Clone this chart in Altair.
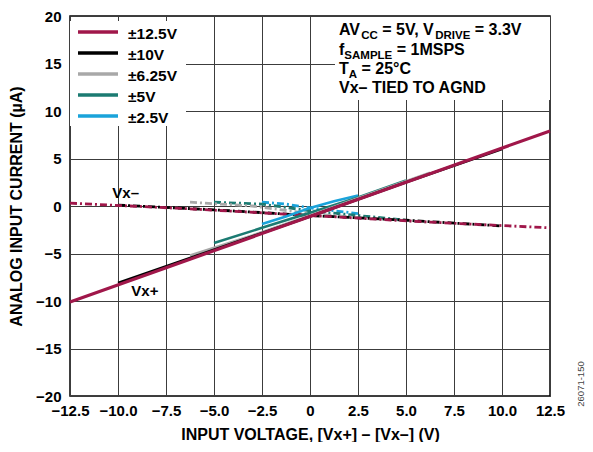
import altair as alt
import pandas as pd

# ---------------- data ----------------
ranges = ["±12.5V", "±10V", "±6.25V", "±5V", "±2.5V"]
colors = ["#A0174A", "#000000", "#A8A8A8", "#1B7B72", "#1AA3DA"]

x_125 = [-12.5, -6.25, 0, 6.25, 12.5]
vp_125 = [-10.1, -5.6, -1.1, 3.4, 7.9]
vm_125 = [0.3, -0.3, -1.0, -1.7, -2.3]

x_10 = [-10, -5, 0, 5, 10]
vp_10 = [-8.1, -4.6, -1.1, 2.5, 6.0]
vm_10 = [0.1, -0.4, -1.0, -1.5, -2.1]

x_625 = [-6.25, -3, 0, 3, 6.25]
vp_625 = [-5.2, -3.1, -1.0, 1.2, 3.5]
vm_625 = [0.4, 0.0, -0.8, -1.3, -1.7]

x_5 = [-5, -2.5, 0, 2.5, 5]
vp_5 = [-3.9, -2.3, -0.7, 0.9, 2.7]
vm_5 = [0.4, 0.2, -0.5, -1.0, -1.5]

x_25 = [-2.5, -1.25, 0, 1.25, 2.5]
vp_25 = [-1.9, -1.1, -0.2, 0.5, 1.1]
vm_25 = [0.4, 0.2, -0.2, -0.5, -0.8]

xs = [x_125, x_10, x_625, x_5, x_25]
vps = [vp_125, vp_10, vp_625, vp_5, vp_25]
vms = [vm_125, vm_10, vm_625, vm_5, vm_25]

x_ticks = [-12.5, -10, -7.5, -5, -2.5, 0, 2.5, 5, 7.5, 10, 12.5]
y_ticks = [-20, -15, -10, -5, 0, 5, 10, 15, 20]

ann_lines = [
    [("AV", 0), ("CC", 1), (" = 5V, V", 0), ("DRIVE", 1), (" = 3.3V", 0)],
    [("f", 0), ("SAMPLE", 1), (" = 1MSPS", 0)],
    [("T", 0), ("A", 1), (" = 25°C", 0)],
    [("Vx– TIED TO AGND", 0)],
]
side_labels = ["Vx–", "Vx+"]
side_label_x = [-9.6, -8.6]
side_label_y = [1.4, -8.9]

FONT = "Liberation Sans"
W = {' ': 278, 'A': 722, 'V': 667, 'C': 722, '=': 584, '5': 556, ',': 278, 'D': 722,
     'R': 722, 'I': 278, 'E': 667, '3': 556, '.': 278, 'f': 333, 'S': 667, 'M': 833,
     'P': 667, 'L': 611, '1': 556, 'T': 611, '°': 400, 'x': 556, '–': 556, 'O': 778,
     'G': 778, 'N': 722, '2': 556}


def tw(s, fs):
    return sum(W.get(c, 600) for c in s) * fs / 1000.0


xscale = alt.Scale(domain=[-12.5, 12.5], nice=False, zero=False)
yscale = alt.Scale(domain=[-20, 20], nice=False, zero=False)

xaxis = alt.Axis(values=x_ticks, title="INPUT VOLTAGE, [Vx+] – [Vx–] (V)",
                 labelExpr="datum.value === 0 ? '0' : format(datum.value, '.1f')",
                 grid=True, ticks=False, domain=False, labelPadding=7,
                 titlePadding=8, labelFlush=False)
yaxis = alt.Axis(values=y_ticks, title="ANALOG INPUT CURRENT (µA)",
                 grid=True, ticks=False, domain=False, labelPadding=9,
                 titlePadding=11, labelFlush=False)


def X():
    return alt.X("x:Q", scale=xscale, axis=xaxis)


def Y():
    return alt.Y("y:Q", scale=yscale, axis=yaxis)


layers = []

# white background boxes behind legend and annotation (cover gridlines)
base_rect = pd.DataFrame({"a": [0]})
layers.append(alt.Chart(base_rect).mark_rect(color="white").encode(
    x=alt.value(0), x2=alt.value(116), y=alt.value(5), y2=alt.value(110)))
layers.append(alt.Chart(base_rect).mark_rect(color="white").encode(
    x=alt.value(265), x2=alt.value(480), y=alt.value(1), y2=alt.value(84)))

# series (draw small ranges first so ±12.5V ends on top)
order = [4, 3, 2, 1, 0]
for side in ["minus", "plus"]:
    for i in order:
        ys = vms[i] if side == "minus" else vps[i]
        df = pd.DataFrame({"x": xs[i], "y": ys})
        if side == "minus":
            mk = alt.Chart(df).mark_line(color=colors[i], strokeWidth=2.8,
                                         strokeDash=[7, 3, 2, 3])
        else:
            mk = alt.Chart(df).mark_line(color=colors[i],
                                         strokeWidth=3.2 if i == 0 else 2.6)
        layers.append(mk.encode(x=X(), y=Y()))

# Vx- / Vx+ labels
lab_df = pd.DataFrame({"x": side_label_x, "y": side_label_y, "t": side_labels})
layers.append(alt.Chart(lab_df).mark_text(font=FONT, fontWeight="bold", fontSize=15,
                                          color="black").encode(
    x=X(), y=Y(), text="t:N"))

# manual legend
for k in range(len(ranges)):
    yy = 16 + 21 * k
    ldf = pd.DataFrame({"t": [ranges[k]]})
    layers.append(alt.Chart(ldf).mark_rule(color=colors[k], strokeWidth=3.5).encode(
        x=alt.value(8), x2=alt.value(48), y=alt.value(yy)))
    layers.append(alt.Chart(ldf).mark_text(font=FONT, fontWeight="bold", fontSize=15.5,
                                           align="left", baseline="middle",
                                           color="black").encode(
        x=alt.value(58), y=alt.value(yy + 2), text="t:N"))

# annotation block with subscripts
MAIN, SUB = 16, 11.5
line_y = [19, 39, 58, 77]
for li, pieces in enumerate(ann_lines):
    off = 269.0
    for txt, sub in pieces:
        fs = SUB if sub else MAIN
        stripped = txt.lstrip(" ")
        off += tw(txt[:len(txt) - len(stripped)], fs)
        pdf = pd.DataFrame({"t": [stripped]})
        layers.append(alt.Chart(pdf).mark_text(font=FONT, fontWeight="bold", fontSize=fs,
                                               align="left", baseline="alphabetic",
                                               color="black").encode(
            x=alt.value(off), y=alt.value(line_y[li] + (4 if sub else 0)), text="t:N"))
        off += tw(stripped, fs)

# figure id on the right edge
layers.append(alt.Chart(pd.DataFrame({"t": ["26071-150"]})).mark_text(
    font=FONT, fontSize=9.5, angle=270, color="#444444", baseline="middle").encode(
    x=alt.value(511), y=alt.value(368), text="t:N"))

chart = alt.layer(*layers).properties(
    width=480, height=380,
    autosize=alt.AutoSizeParams(type="none"),
    padding={"left": 62, "top": 8, "right": 35, "bottom": 46},
).configure_view(stroke="black", strokeWidth=1.5).configure_axis(
    labelFont=FONT, labelFontWeight="bold", labelFontSize=15, labelColor="black",
    titleFont=FONT, titleFontWeight="bold", titleFontSize=16, titleColor="black",
    gridColor="#3c3c3c", gridWidth=1, gridOpacity=1,
)

chart.save("out.html", embed_options={"renderer": "svg", "actions": False})
